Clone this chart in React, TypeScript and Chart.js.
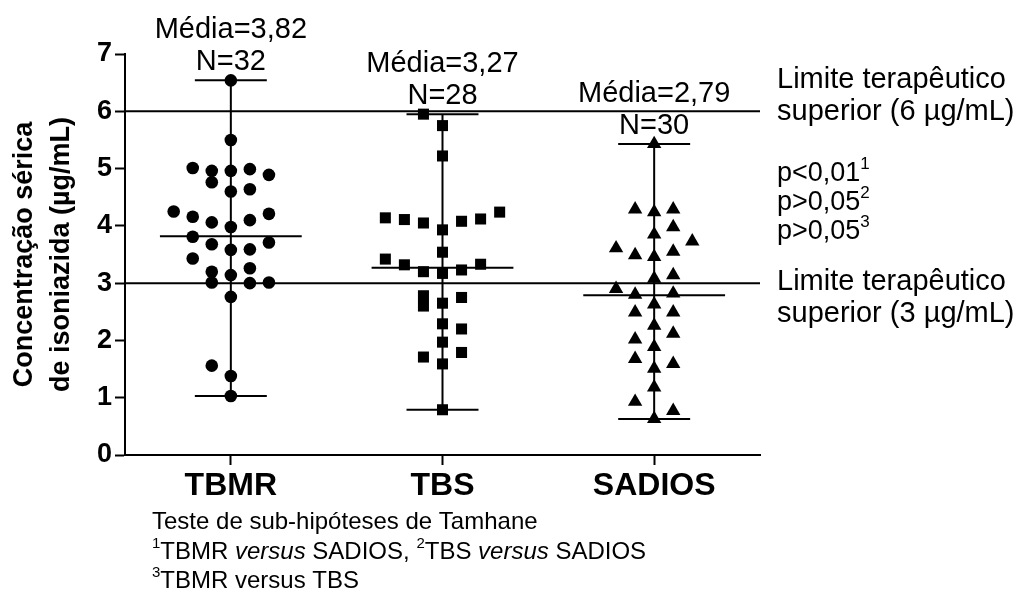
import React, { useEffect, useRef } from 'react';
import { Chart, registerables } from 'chart.js';

Chart.register(...registerables);

const categories = ['TBMR', 'TBS', 'SADIOS'];
const meanLabels = ['Média=3,82', 'Média=3,27', 'Média=2,79'];
const nLabels = ['N=32', 'N=28', 'N=30'];
const means = [3.82, 3.27, 2.79];
const limitValues = [6, 3];
const yTitle = ['Concentração sérica', 'de isoniazida (µg/mL)'];

const tbmrValues = [6.54, 5.5, 5.01, 4.96, 4.96, 4.99, 4.89, 4.76, 4.6, 4.64, 4.25, 4.16, 4.06, 3.98, 4.1, 4.21, 3.81, 3.68, 3.58, 3.59, 3.71, 3.43, 3.2, 3.14, 3.26, 3.01, 3.0, 3.01, 2.76, 1.56, 1.38, 1.03];
const tbmrColumns = [0, 0, -2, -1, 0, 1, 2, -1, 0, 1, -3, -2, -1, 0, 1, 2, -2, -1, 0, 1, 2, -2, -1, 0, 1, -1, 1, 2, 0, -1, 0, 0];

const tbsValues = [5.95, 5.75, 5.22, 4.14, 4.11, 4.05, 3.93, 4.08, 4.12, 4.24, 3.54, 3.42, 3.32, 3.2, 3.17, 3.23, 3.33, 2.78, 2.6, 2.65, 2.75, 2.29, 2.2, 1.97, 1.71, 1.79, 1.59, 0.79];
const tbsColumns = [-1, 0, 0, -3, -2, -1, 0, 1, 2, 3, 0, -3, -2, -1, 0, 1, 2, -1, -1, 0, 1, 0, 1, 0, -1, 1, 0, 0];

const sadiosValues = [5.43, 4.29, 4.24, 4.29, 3.98, 3.85, 3.73, 3.61, 3.49, 3.46, 3.55, 3.14, 3.08, 2.9, 2.8, 2.82, 2.63, 2.49, 2.49, 2.26, 2.12, 2.02, 1.89, 1.68, 1.59, 1.51, 1.18, 0.93, 0.77, 0.63];
const sadiosColumns = [0, -1, 0, 1, 1, 0, 2, -2, -1, 0, 1, 1, 0, -2, -1, 1, 0, -1, 1, 0, 1, -1, 0, -1, 1, 0, 0, -1, 1, 0];

const groupValues = [tbmrValues, tbsValues, sadiosValues];
const groupColumns = [tbmrColumns, tbsColumns, sadiosColumns];
const pointStyles = ['circle', 'rect', 'triangle'];
const pointRadii = [6.3, 7.8, 8.3];

const COLUMN_STEP = 0.09;
const CAP_HALF = 0.17;
const MEAN_HALF = 0.335;
const FONT = "'Liberation Sans', Arial, Helvetica, sans-serif";

type Seg = { t: string; sup?: boolean; it?: boolean };

function drawSegments(ctx: CanvasRenderingContext2D, segs: Seg[], x: number, y: number, size: number) {
  let cx = x;
  ctx.textAlign = 'left';
  ctx.textBaseline = 'middle';
  for (const s of segs) {
    if (s.sup) {
      const ss = Math.round(size * 0.62);
      ctx.font = `${ss}px ${FONT}`;
      ctx.fillText(s.t, cx, y - size * 0.33);
      cx += ctx.measureText(s.t).width;
    } else {
      ctx.font = `${s.it ? 'italic ' : ''}${size}px ${FONT}`;
      ctx.fillText(s.t, cx, y);
      cx += ctx.measureText(s.t).width;
    }
  }
}

const annotationPlugin = {
  id: 'annotations',
  afterDatasetsDraw(chart: any) {
    const { ctx, scales } = chart;
    const xs = scales.x;
    const ys = scales.y;
    ctx.save();
    ctx.fillStyle = '#000';
    ctx.textAlign = 'center';
    ctx.textBaseline = 'middle';
    ctx.font = `29px ${FONT}`;
    groupValues.forEach((vals, i) => {
      const top = ys.getPixelForValue(Math.max(...vals));
      const cx = xs.getPixelForValue(i);
      ctx.fillText(nLabels[i], cx, top - 18);
      ctx.fillText(meanLabels[i], cx, top - 50);
    });
    const rx = 777;
    const y6 = ys.getPixelForValue(limitValues[0]);
    const y3 = ys.getPixelForValue(limitValues[1]);
    drawSegments(ctx, [{ t: 'Limite terapêutico' }], rx, y6 - 31, 29);
    drawSegments(ctx, [{ t: 'superior (6 µg/mL)' }], rx, y6 + 1, 29);
    drawSegments(ctx, [{ t: 'p<0,01' }, { t: '1', sup: true }], rx, y6 + 62, 27);
    drawSegments(ctx, [{ t: 'p>0,05' }, { t: '2', sup: true }], rx, y6 + 91, 27);
    drawSegments(ctx, [{ t: 'p>0,05' }, { t: '3', sup: true }], rx, y6 + 120, 27);
    drawSegments(ctx, [{ t: 'Limite terapêutico' }], rx, y3 - 1, 29);
    drawSegments(ctx, [{ t: 'superior (3 µg/mL)' }], rx, y3 + 31, 29);
    const fx = 152;
    drawSegments(ctx, [{ t: 'Teste de sub-hipóteses de Tamhane' }], fx, 522, 24);
    drawSegments(ctx, [
      { t: '1', sup: true }, { t: 'TBMR ' }, { t: 'versus', it: true }, { t: ' SADIOS, ' },
      { t: '2', sup: true }, { t: 'TBS ' }, { t: 'versus', it: true }, { t: ' SADIOS' },
    ], fx, 552, 24);
    drawSegments(ctx, [{ t: '3', sup: true }, { t: 'TBMR versus TBS' }], fx, 581, 24);
    ctx.restore();
  },
};

function lineDs(points: { x: number; y: number }[]) {
  return {
    type: 'line' as const,
    data: points,
    showLine: true,
    borderColor: '#000',
    borderWidth: 2,
    pointRadius: 0,
    fill: false,
    order: 2,
  };
}

export default function App() {
  const ref = useRef<HTMLCanvasElement | null>(null);
  useEffect(() => {
    if (!ref.current) return;
    const datasets: any[] = [];
    groupValues.forEach((vals, i) => {
      datasets.push({
        type: 'scatter',
        data: vals.map((v, k) => ({ x: i + groupColumns[i][k] * COLUMN_STEP, y: v })),
        pointStyle: pointStyles[i],
        pointRadius: pointRadii[i],
        backgroundColor: '#000',
        borderColor: '#000',
        borderWidth: 0,
        order: 0,
      });
    });
    limitValues.forEach((v) => {
      datasets.push(lineDs([{ x: -0.5, y: v }, { x: 2.5, y: v }]));
    });
    groupValues.forEach((vals, i) => {
      const mn = Math.min(...vals);
      const mx = Math.max(...vals);
      datasets.push(lineDs([{ x: i, y: mn }, { x: i, y: mx }]));
      datasets.push(lineDs([{ x: i - CAP_HALF, y: mx }, { x: i + CAP_HALF, y: mx }]));
      datasets.push(lineDs([{ x: i - CAP_HALF, y: mn }, { x: i + CAP_HALF, y: mn }]));
      datasets.push(lineDs([{ x: i - MEAN_HALF, y: means[i] }, { x: i + MEAN_HALF, y: means[i] }]));
    });

    const chart = new Chart(ref.current, {
      type: 'scatter',
      data: { datasets },
      plugins: [annotationPlugin],
      options: {
        responsive: false,
        animation: false,
        devicePixelRatio: 1,
        layout: { padding: { top: 54, right: 266, left: 0, bottom: 0 } },
        plugins: { legend: { display: false }, tooltip: { enabled: false } },
        scales: {
          x: {
            type: 'linear',
            min: -0.5,
            max: 2.5,
            afterBuildTicks: (scale: any) => {
              scale.ticks = categories.map((_, i) => ({ value: i }));
            },
            afterFit: (scale: any) => {
              scale.height = 140;
              scale.paddingLeft = 0;
              scale.paddingRight = 0;
            },
            ticks: {
              callback: (v: any) => categories[v as number] ?? '',
              color: '#000',
              font: { family: FONT, size: 32, weight: 'bold' },
              padding: 2,
              maxRotation: 0,
              autoSkip: false,
            },
            grid: { drawOnChartArea: false, drawTicks: true, tickLength: 10, tickWidth: 2, tickColor: '#000' },
            border: { display: true, color: '#000', width: 2 },
          },
          y: {
            min: 0,
            max: 7,
            afterFit: (scale: any) => {
              scale.width = 125;
              scale.paddingTop = 0;
              scale.paddingBottom = 0;
            },
            ticks: {
              stepSize: 1,
              color: '#000',
              font: { family: FONT, size: 27, weight: 'bold' },
              padding: 3,
            },
            grid: { drawOnChartArea: false, drawTicks: true, tickLength: 10, tickWidth: 2, tickColor: '#000' },
            border: { display: true, color: '#000', width: 2 },
            title: {
              display: true,
              text: yTitle,
              color: '#000',
              font: { family: FONT, size: 27, weight: 'bold', lineHeight: '37px' },
              padding: { top: 6, bottom: 0 },
            },
          },
        },
      } as any,
    });
    return () => chart.destroy();
  }, []);

  return (
    <div style={{ position: 'absolute', left: 0, top: 0, width: 1026, height: 595, background: '#fff' }}>
      <canvas ref={ref} width={1026} height={595} style={{ width: 1026, height: 595 }} />
    </div>
  );
}
